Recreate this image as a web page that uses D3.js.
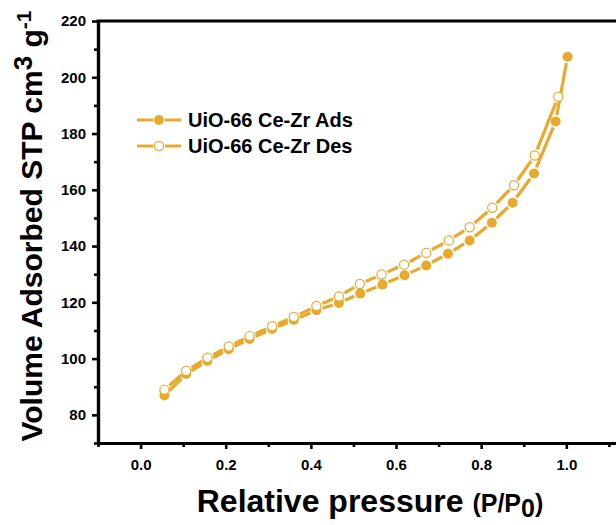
<!DOCTYPE html>
<html>
<head>
<meta charset="utf-8">
<script src="https://cdn.jsdelivr.net/npm/d3@7"></script>
<style>
  html, body { margin: 0; padding: 0; background: #fff; }
  svg { display: block; font-family: Arial, "Liberation Sans", sans-serif; }
</style>
</head>
<body>
<svg id="chart" width="616" height="525"></svg>
<script>
// N2 isotherm of UiO-66 Ce-Zr: adsorption and desorption branches
const adsP = [0.056, 0.107, 0.157, 0.207, 0.256, 0.309, 0.360, 0.413, 0.466, 0.516,
              0.568, 0.620, 0.671, 0.722, 0.773, 0.825, 0.874, 0.924, 0.975, 1.003];
const adsV = [86.9, 94.5, 99.2, 103.3, 107.0, 110.5, 113.7, 117.2, 119.8, 123.1,
              126.3, 129.6, 133.1, 137.3, 142.0, 148.3, 155.4, 165.8, 184.3, 207.3];
const desP = [0.056, 0.107, 0.157, 0.207, 0.256, 0.309, 0.360, 0.413, 0.466, 0.515,
              0.566, 0.619, 0.671, 0.724, 0.773, 0.826, 0.877, 0.926, 0.981];
const desV = [88.9, 95.6, 100.3, 104.3, 108.0, 111.5, 114.8, 118.7, 122.1, 126.5,
              129.9, 133.4, 137.6, 142.0, 146.7, 153.6, 161.6, 172.2, 193.1];

const seriesNames = ["UiO-66 Ce-Zr Ads", "UiO-66 Ce-Zr Des"];
const xMajor = [0.0, 0.2, 0.4, 0.6, 0.8, 1.0];
const xMinor = [-0.1, 0.1, 0.3, 0.5, 0.7, 0.9, 1.1];
const yMajor = [80, 100, 120, 140, 160, 180, 200, 220];
const yMinor = [70, 90, 110, 130, 150, 170, 190, 210];

const gold = "#E8A92C";
const svg = d3.select("#chart");

const x = d3.scaleLinear().domain([-0.1, 1.12]).range([98, 617.4]);
const y = d3.scaleLinear().domain([70, 220]).range([443, 21]);

// frame: left axis, bottom axis, top edge
const axisG = svg.append("g");

const xAxis = d3.axisBottom(x).tickValues(xMajor).tickFormat(d3.format(".1f"))
  .tickSizeInner(6).tickSizeOuter(0).tickPadding(10);
const gx = axisG.append("g").attr("transform", `translate(0,${y(70)})`).call(xAxis);
const xAxisMinor = d3.axisBottom(x).tickValues(xMinor).tickFormat("").tickSizeInner(4).tickSizeOuter(0);
const gxm = axisG.append("g").attr("transform", `translate(0,${y(70)})`).call(xAxisMinor);

const yAxis = d3.axisLeft(y).tickValues(yMajor).tickFormat(d3.format("d"))
  .tickSizeInner(6).tickSizeOuter(0).tickPadding(6);
const gy = axisG.append("g").attr("transform", `translate(${x(-0.1)},0)`).call(yAxis);
const yAxisMinor = d3.axisLeft(y).tickValues(yMinor).tickFormat("").tickSizeInner(4).tickSizeOuter(0);
const gym = axisG.append("g").attr("transform", `translate(${x(-0.1)},0)`).call(yAxisMinor);

[gx, gxm, gy, gym].forEach(g => {
  g.select(".domain").attr("stroke", "#000").attr("stroke-width", 3.2);
  g.selectAll(".tick line").attr("stroke", "#000").attr("stroke-width", 2.6);
  g.selectAll(".tick text").attr("fill", "#000").attr("font-size", 15).attr("font-weight", "bold");
});

axisG.append("line")
  .attr("x1", x(-0.1) - 1.5).attr("x2", 616)
  .attr("y1", y(220)).attr("y2", y(220))
  .attr("stroke", "#000").attr("stroke-width", 3.2);

// connecting lines, broken around each marker
const gap = 6.5;
function drawSegments(g, px, py) {
  const pts = px.map((p, i) => [x(p), y(py[i])]);
  for (let i = 0; i < pts.length - 1; i++) {
    const [x0, y0] = pts[i], [x1, y1] = pts[i + 1];
    const dx = x1 - x0, dy = y1 - y0, len = Math.hypot(dx, dy);
    if (len <= 2 * gap) continue;
    const ux = dx / len, uy = dy / len;
    g.append("line")
      .attr("x1", x0 + ux * gap).attr("y1", y0 + uy * gap)
      .attr("x2", x1 - ux * gap).attr("y2", y1 - uy * gap)
      .attr("stroke", gold).attr("stroke-width", 3.2);
  }
}

const adsG = svg.append("g");
drawSegments(adsG, adsP, adsV);
adsG.selectAll("circle").data(adsP).join("circle")
  .attr("cx", d => x(d)).attr("cy", (d, i) => y(adsV[i])).attr("r", 5)
  .attr("fill", gold);

const desG = svg.append("g");
drawSegments(desG, desP, desV);
desG.selectAll("circle").data(desP).join("circle")
  .attr("cx", d => x(d)).attr("cy", (d, i) => y(desV[i])).attr("r", 4.6)
  .attr("fill", "#fff").attr("stroke", gold).attr("stroke-width", 1.2);

// legend
const legend = svg.append("g");
[0, 1].forEach(k => {
  const ly = 120 + k * 26;
  const lx0 = 137, lx1 = 181, cx = (lx0 + lx1) / 2;
  legend.append("line").attr("x1", lx0).attr("x2", cx - 6).attr("y1", ly).attr("y2", ly)
    .attr("stroke", gold).attr("stroke-width", 3);
  legend.append("line").attr("x1", cx + 6).attr("x2", lx1).attr("y1", ly).attr("y2", ly)
    .attr("stroke", gold).attr("stroke-width", 3);
  legend.append("circle").attr("cx", cx).attr("cy", ly).attr("r", k === 0 ? 5 : 4.6)
    .attr("fill", k === 0 ? gold : "#fff")
    .attr("stroke", k === 0 ? "none" : gold).attr("stroke-width", 1.2);
  legend.append("text").attr("x", 188).attr("y", ly).attr("dy", "0.35em")
    .attr("font-size", 20).attr("font-weight", "bold").attr("fill", "#000")
    .text(seriesNames[k]);
});

// axis titles
const xt = svg.append("text")
  .attr("x", 370).attr("y", 512).attr("text-anchor", "middle")
  .attr("font-size", 32).attr("font-weight", "bold").attr("fill", "#000");
xt.append("tspan").text("Relative pressure ");
xt.append("tspan").attr("font-size", 25).text("(P/P");
xt.append("tspan").attr("font-size", 25).attr("dy", 5).text("0");
xt.append("tspan").attr("font-size", 25).attr("dy", -5).text(")");

const yt = svg.append("text")
  .attr("transform", "translate(42,226) rotate(-90)")
  .attr("text-anchor", "middle")
  .attr("font-size", 30).attr("font-weight", "bold").attr("fill", "#000");
yt.append("tspan").text("Volume Adsorbed STP cm");
yt.append("tspan").attr("dy", -10).attr("font-size", 26).text("3");
yt.append("tspan").attr("dy", 10).text(" g");
yt.append("tspan").attr("dy", -11).attr("font-size", 21).text("-1");
</script>
</body>
</html>
